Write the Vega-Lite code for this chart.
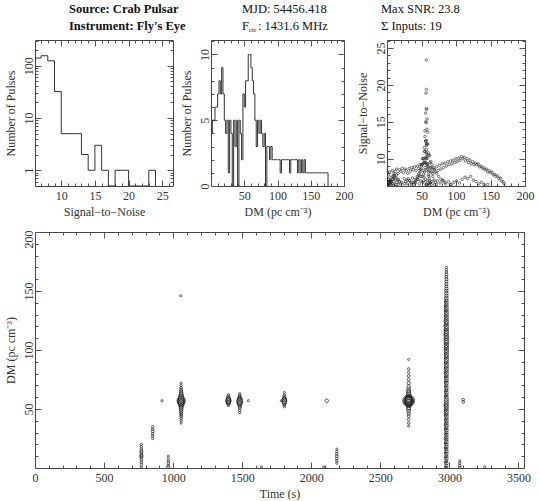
{
  "$schema": "https://vega.github.io/schema/vega-lite/v6.json",
  "padding": {"left": 3, "top": 1, "right": 2, "bottom": 0},
  "datasets": {
    "header": [
      {"col": 1, "line": 1, "part": "bold", "text": "Source: Crab Pulsar"},
      {"col": 1, "line": 2, "part": "bold", "text": "Instrument: Fly's Eye"},
      {"col": 2, "line": 1, "part": "main", "text": "MJD: 54456.418"},
      {"col": 2, "line": 2, "part": "main", "text": "F"},
      {"col": 2, "line": 2, "part": "sub", "text": "ctr"},
      {"col": 2, "line": 2, "part": "rest", "text": ": 1431.6 MHz"},
      {"col": 3, "line": 1, "part": "main", "text": "Max SNR: 23.8"},
      {"col": 3, "line": 2, "part": "main", "text": "Σ Inputs: 19"}
    ],
    "snrhist": [
      {"snr": 6, "count": 140}, {"snr": 7, "count": 155}, {"snr": 8, "count": 124}, {"snr": 9, "count": 32},
      {"snr": 10, "count": 5}, {"snr": 11, "count": 5}, {"snr": 12, "count": 5}, {"snr": 13, "count": 2},
      {"snr": 14, "count": 1}, {"snr": 15, "count": 3}, {"snr": 16, "count": 1}, {"snr": 17, "count": 0},
      {"snr": 18, "count": 1}, {"snr": 19, "count": 1}, {"snr": 20, "count": 0}, {"snr": 21, "count": 0},
      {"snr": 22, "count": 0}, {"snr": 23, "count": 1}, {"snr": 24, "count": 0}
    ],
    "dmhist": [
      {"dm": 0, "count": 4}, {"dm": 2, "count": 5}, {"dm": 4, "count": 5}, {"dm": 6, "count": 6}, {"dm": 8, "count": 6},
      {"dm": 10, "count": 7}, {"dm": 12, "count": 8}, {"dm": 14, "count": 7}, {"dm": 16, "count": 9}, {"dm": 18, "count": 7},
      {"dm": 20, "count": 5}, {"dm": 22, "count": 4}, {"dm": 24, "count": 5}, {"dm": 26, "count": 1}, {"dm": 28, "count": 5},
      {"dm": 30, "count": 4}, {"dm": 32, "count": 0}, {"dm": 34, "count": 5}, {"dm": 36, "count": 3}, {"dm": 38, "count": 5},
      {"dm": 40, "count": 0}, {"dm": 42, "count": 5}, {"dm": 44, "count": 4}, {"dm": 46, "count": 2}, {"dm": 48, "count": 7},
      {"dm": 50, "count": 6}, {"dm": 52, "count": 8}, {"dm": 54, "count": 8}, {"dm": 56, "count": 10}, {"dm": 58, "count": 10},
      {"dm": 60, "count": 9}, {"dm": 62, "count": 8}, {"dm": 64, "count": 7}, {"dm": 66, "count": 5}, {"dm": 68, "count": 3},
      {"dm": 70, "count": 5}, {"dm": 72, "count": 4}, {"dm": 74, "count": 5}, {"dm": 76, "count": 4}, {"dm": 78, "count": 3},
      {"dm": 80, "count": 4}, {"dm": 82, "count": 0}, {"dm": 84, "count": 3}, {"dm": 86, "count": 3}, {"dm": 88, "count": 2},
      {"dm": 90, "count": 3}, {"dm": 92, "count": 2}, {"dm": 94, "count": 2}, {"dm": 96, "count": 2}, {"dm": 98, "count": 2},
      {"dm": 100, "count": 2}, {"dm": 102, "count": 2}, {"dm": 104, "count": 1}, {"dm": 106, "count": 2}, {"dm": 108, "count": 2},
      {"dm": 110, "count": 2}, {"dm": 112, "count": 2}, {"dm": 114, "count": 2}, {"dm": 116, "count": 2}, {"dm": 118, "count": 1},
      {"dm": 120, "count": 2}, {"dm": 122, "count": 2}, {"dm": 124, "count": 2}, {"dm": 126, "count": 2}, {"dm": 128, "count": 2},
      {"dm": 130, "count": 1}, {"dm": 132, "count": 2}, {"dm": 134, "count": 1}, {"dm": 136, "count": 2}, {"dm": 138, "count": 1},
      {"dm": 140, "count": 2}, {"dm": 142, "count": 1}, {"dm": 144, "count": 1}, {"dm": 146, "count": 1}, {"dm": 148, "count": 1},
      {"dm": 150, "count": 1}, {"dm": 152, "count": 1}, {"dm": 154, "count": 1}, {"dm": 156, "count": 1}, {"dm": 158, "count": 1},
      {"dm": 160, "count": 1}, {"dm": 162, "count": 1}, {"dm": 164, "count": 1}, {"dm": 166, "count": 1}, {"dm": 168, "count": 1},
      {"dm": 170, "count": 1}, {"dm": 172, "count": 1}, {"dm": 174, "count": 1}, {"dm": 176, "count": 0}
    ],
    "events": [
      {"t":770,"dm":1,"snr":6.5},{"t":770,"dm":3,"snr":6.8},{"t":770,"dm":5,"snr":7.0},{"t":770,"dm":7,"snr":7.2},{"t":770,"dm":9,"snr":7.6},{"t":770,"dm":10,"snr":8.0},{"t":770,"dm":11,"snr":7.6},{"t":770,"dm":13,"snr":7.4},{"t":770,"dm":14,"snr":7.8},{"t":770,"dm":16,"snr":7.2},{"t":770,"dm":18,"snr":6.9},{"t":770,"dm":20,"snr":6.6},
      {"t":852,"dm":25,"snr":6.6},{"t":852,"dm":27,"snr":6.9},{"t":852,"dm":29,"snr":7.1},{"t":852,"dm":31,"snr":7.3},{"t":852,"dm":33,"snr":7.0},{"t":852,"dm":35,"snr":6.7},
      {"t":920,"dm":57,"snr":6.6},
      {"t":965,"dm":0.5,"snr":8.2},{"t":965,"dm":2,"snr":7.2},{"t":965,"dm":4,"snr":7.0},{"t":965,"dm":6,"snr":6.8},{"t":965,"dm":8,"snr":6.6},{"t":965,"dm":10,"snr":6.4},
      {"t":1058,"dm":38,"snr":6.5},{"t":1058,"dm":40,"snr":6.8},{"t":1058,"dm":42,"snr":7.0},{"t":1058,"dm":43.5,"snr":7.2},{"t":1058,"dm":45,"snr":7.5},{"t":1058,"dm":46.5,"snr":7.8},{"t":1058,"dm":48,"snr":8.2},{"t":1058,"dm":49.5,"snr":8.6},{"t":1058,"dm":51,"snr":9.2},{"t":1058,"dm":52.5,"snr":10.0},{"t":1058,"dm":54,"snr":11.5},{"t":1058,"dm":55,"snr":13.0},{"t":1058,"dm":56,"snr":15.0},{"t":1058,"dm":57,"snr":16.8},{"t":1058,"dm":58,"snr":14.0},{"t":1058,"dm":59,"snr":12.0},{"t":1058,"dm":60.5,"snr":10.5},{"t":1058,"dm":62,"snr":9.5},{"t":1058,"dm":63.5,"snr":8.8},{"t":1058,"dm":65,"snr":8.2},{"t":1058,"dm":66.5,"snr":7.6},{"t":1058,"dm":68,"snr":7.1},{"t":1058,"dm":70,"snr":6.8},{"t":1058,"dm":72,"snr":6.5},{"t":1058,"dm":57,"snr":12.5},{"t":1058,"dm":56.5,"snr":10.0},
      {"t":1055,"dm":146,"snr":6.5},
      {"t":1400,"dm":53,"snr":7.0},{"t":1400,"dm":54.5,"snr":8.2},{"t":1400,"dm":55.5,"snr":9.5},{"t":1400,"dm":56.5,"snr":10.8},{"t":1400,"dm":57,"snr":11.8},{"t":1400,"dm":58,"snr":10.2},{"t":1400,"dm":59,"snr":9.0},{"t":1400,"dm":60.5,"snr":7.8},{"t":1400,"dm":62,"snr":6.8},
      {"t":1482,"dm":47,"snr":6.6},{"t":1482,"dm":49,"snr":7.0},{"t":1482,"dm":51,"snr":7.6},{"t":1482,"dm":52.5,"snr":8.4},{"t":1482,"dm":54,"snr":9.5},{"t":1482,"dm":55,"snr":11.0},{"t":1482,"dm":56,"snr":12.4},{"t":1482,"dm":57,"snr":12.0},{"t":1482,"dm":58,"snr":10.6},{"t":1482,"dm":59,"snr":9.3},{"t":1482,"dm":60,"snr":8.2},{"t":1482,"dm":61.5,"snr":7.3},{"t":1482,"dm":63,"snr":6.7},
      {"t":1545,"dm":57,"snr":6.5},
      {"t":1640,"dm":1,"snr":6.4},
      {"t":1783,"dm":57,"snr":6.4},
      {"t":1805,"dm":52,"snr":6.8},{"t":1805,"dm":53.5,"snr":7.5},{"t":1805,"dm":55,"snr":8.8},{"t":1805,"dm":56,"snr":10.2},{"t":1805,"dm":57,"snr":11.2},{"t":1805,"dm":58,"snr":10.0},{"t":1805,"dm":59,"snr":8.6},{"t":1805,"dm":60.5,"snr":7.6},{"t":1805,"dm":62,"snr":7.0},{"t":1805,"dm":64,"snr":6.5},
      {"t":2090,"dm":1,"snr":6.4},
      {"t":2112,"dm":57,"snr":8.5},
      {"t":2185,"dm":4,"snr":6.6},{"t":2185,"dm":6,"snr":6.9},{"t":2185,"dm":8,"snr":7.2},{"t":2185,"dm":10,"snr":7.4},{"t":2185,"dm":12,"snr":7.1},{"t":2185,"dm":14,"snr":6.8},{"t":2185,"dm":16,"snr":6.5},
      {"t":2705,"dm":57,"snr":23.4},{"t":2705,"dm":57,"snr":19.4},{"t":2705,"dm":56.5,"snr":18.9},{"t":2705,"dm":57.5,"snr":16.7},{"t":2705,"dm":56,"snr":16.2},{"t":2705,"dm":58,"snr":15.4},{"t":2705,"dm":57,"snr":14.9},{"t":2705,"dm":55,"snr":13.8},{"t":2705,"dm":59,"snr":13.6},{"t":2705,"dm":56,"snr":12.4},{"t":2705,"dm":58,"snr":12.0},{"t":2705,"dm":54,"snr":11.0},{"t":2705,"dm":60,"snr":10.8},{"t":2705,"dm":53,"snr":10.0},
      {"t":2705,"dm":38,"snr":6.8},{"t":2705,"dm":41,"snr":7.2},{"t":2705,"dm":44,"snr":7.6},{"t":2705,"dm":46,"snr":8.0},{"t":2705,"dm":48,"snr":8.5},{"t":2705,"dm":50,"snr":9.2},{"t":2705,"dm":51.5,"snr":10.0},{"t":2705,"dm":62,"snr":10.4},{"t":2705,"dm":63.5,"snr":9.6},{"t":2705,"dm":65,"snr":9.2},{"t":2705,"dm":67,"snr":8.8},{"t":2705,"dm":69,"snr":8.5},{"t":2705,"dm":72,"snr":8.0},{"t":2705,"dm":75,"snr":7.6},{"t":2705,"dm":78,"snr":7.2},{"t":2705,"dm":81,"snr":7.0},{"t":2705,"dm":84,"snr":6.8},{"t":2705,"dm":35.5,"snr":6.5},{"t":2705,"dm":92,"snr":6.5},
      {"t":2978,"dm":0,"snr":7.0},{"t":2978,"dm":2,"snr":7.8},{"t":2978,"dm":4,"snr":8.2},{"t":2978,"dm":6,"snr":7.5},{"t":2978,"dm":8,"snr":8.4},{"t":2978,"dm":10,"snr":7.8},{"t":2978,"dm":12,"snr":8.3},{"t":2978,"dm":14,"snr":8.6},{"t":2978,"dm":16,"snr":8.0},{"t":2978,"dm":18,"snr":8.5},{"t":2978,"dm":20,"snr":8.3},{"t":2978,"dm":22,"snr":8.7},{"t":2978,"dm":24,"snr":8.1},{"t":2978,"dm":26,"snr":8.6},{"t":2978,"dm":28,"snr":8.4},{"t":2978,"dm":30,"snr":8.0},{"t":2978,"dm":32,"snr":8.7},{"t":2978,"dm":34,"snr":8.3},{"t":2978,"dm":36,"snr":8.8},{"t":2978,"dm":38,"snr":8.5},{"t":2978,"dm":40,"snr":8.9},{"t":2978,"dm":42,"snr":8.4},{"t":2978,"dm":44,"snr":9.0},{"t":2978,"dm":46,"snr":8.7},{"t":2978,"dm":48,"snr":9.2},{"t":2978,"dm":50,"snr":9.0},{"t":2978,"dm":52,"snr":9.3},{"t":2978,"dm":54,"snr":9.5},{"t":2978,"dm":56,"snr":9.4},{"t":2978,"dm":58,"snr":9.2},
      {"t":2978,"dm":60,"snr":8.9},{"t":2978,"dm":62,"snr":8.3},{"t":2978,"dm":64,"snr":8.7},{"t":2978,"dm":66,"snr":8.0},{"t":2978,"dm":68,"snr":8.6},{"t":2978,"dm":70,"snr":8.2},{"t":2978,"dm":72,"snr":8.9},{"t":2978,"dm":74,"snr":8.4},{"t":2978,"dm":76,"snr":9.1},{"t":2978,"dm":78,"snr":8.6},{"t":2978,"dm":80,"snr":9.3},{"t":2978,"dm":82,"snr":8.8},{"t":2978,"dm":84,"snr":9.4},{"t":2978,"dm":86,"snr":9.0},{"t":2978,"dm":88,"snr":9.6},{"t":2978,"dm":90,"snr":9.2},{"t":2978,"dm":92,"snr":9.7},{"t":2978,"dm":94,"snr":9.3},{"t":2978,"dm":96,"snr":9.8},{"t":2978,"dm":98,"snr":9.5},{"t":2978,"dm":100,"snr":10.0},{"t":2978,"dm":102,"snr":9.6},{"t":2978,"dm":104,"snr":10.1},{"t":2978,"dm":106,"snr":9.8},{"t":2978,"dm":108,"snr":10.3},{"t":2978,"dm":110,"snr":10.0},{"t":2978,"dm":112,"snr":10.2},{"t":2978,"dm":114,"snr":9.7},{"t":2978,"dm":116,"snr":10.0},{"t":2978,"dm":118,"snr":9.5},{"t":2978,"dm":120,"snr":9.8},{"t":2978,"dm":122,"snr":9.3},{"t":2978,"dm":124,"snr":9.6},{"t":2978,"dm":126,"snr":9.2},{"t":2978,"dm":128,"snr":9.4},{"t":2978,"dm":130,"snr":9.2},{"t":2978,"dm":132,"snr":9.3},{"t":2978,"dm":134,"snr":8.9},{"t":2978,"dm":136,"snr":9.0},{"t":2978,"dm":138,"snr":8.7},{"t":2978,"dm":140,"snr":8.8},{"t":2978,"dm":142,"snr":8.5},{"t":2978,"dm":144,"snr":8.6},{"t":2978,"dm":146,"snr":8.2},{"t":2978,"dm":148,"snr":8.4},{"t":2978,"dm":150,"snr":8.1},{"t":2978,"dm":152,"snr":8.2},{"t":2978,"dm":154,"snr":7.8},{"t":2978,"dm":156,"snr":7.9},{"t":2978,"dm":158,"snr":7.6},{"t":2978,"dm":160,"snr":7.7},{"t":2978,"dm":162,"snr":7.3},{"t":2978,"dm":164,"snr":7.4},{"t":2978,"dm":166,"snr":7.0},{"t":2978,"dm":168,"snr":6.9},{"t":2978,"dm":170,"snr":6.6},
      {"t":2972,"dm":1,"snr":6.4},{"t":2972,"dm":5,"snr":6.6},{"t":2972,"dm":9,"snr":6.9},{"t":2972,"dm":13,"snr":6.5},{"t":2972,"dm":17,"snr":7.1},{"t":2972,"dm":21,"snr":6.8},{"t":2972,"dm":25,"snr":7.3},{"t":2972,"dm":29,"snr":6.6},{"t":2972,"dm":33,"snr":7.0},{"t":2972,"dm":37,"snr":7.4},{"t":2972,"dm":41,"snr":6.7},{"t":2972,"dm":45,"snr":7.2},{"t":2972,"dm":49,"snr":7.6},{"t":2972,"dm":53,"snr":7.9},{"t":2972,"dm":61,"snr":6.6},{"t":2972,"dm":65,"snr":6.9},{"t":2972,"dm":69,"snr":6.5},{"t":2972,"dm":73,"snr":7.0},{"t":2972,"dm":77,"snr":6.7},{"t":2972,"dm":81,"snr":7.1},{"t":2972,"dm":85,"snr":6.6},{"t":2972,"dm":89,"snr":6.9},{"t":2972,"dm":93,"snr":6.5},{"t":2972,"dm":97,"snr":6.8},{"t":2972,"dm":101,"snr":7.0},{"t":2972,"dm":105,"snr":6.7},{"t":2972,"dm":109,"snr":7.2},{"t":2972,"dm":113,"snr":7.5},{"t":2972,"dm":117,"snr":7.3},{"t":2972,"dm":121,"snr":7.6},{"t":2972,"dm":125,"snr":7.1},{"t":2972,"dm":129,"snr":6.9},{"t":2972,"dm":133,"snr":6.6},{"t":2972,"dm":137,"snr":6.8},{"t":2972,"dm":141,"snr":6.5},
      {"t":3075,"dm":0.5,"snr":6.8},{"t":3075,"dm":2,"snr":7.2},{"t":3075,"dm":4,"snr":6.9},{"t":3075,"dm":6,"snr":6.5},
      {"t":3100,"dm":56,"snr":7.2},{"t":3100,"dm":58,"snr":7.0},
      {"t":3255,"dm":1,"snr":6.4}
    ]
  },
  "vconcat": [
    {
      "width": 489, "height": 26,
      "view": {"stroke": null},
      "data": {"name": "header"},
      "encoding": {
        "x": {"field": "col", "type": "quantitative", "scale": {"domain": [1, 2, 3], "range": [34, 207, 346]}, "axis": null},
        "y": {"field": "line", "type": "quantitative", "scale": {"domain": [1, 2], "range": [8, 25]}, "axis": null},
        "text": {"field": "text"}
      },
      "layer": [
        {"transform": [{"filter": "datum.part === 'bold'"}], "mark": {"type": "text", "align": "left", "baseline": "middle", "font": "Liberation Serif", "fontSize": 12.5, "fontWeight": "bold", "color": "#111"}},
        {"transform": [{"filter": "datum.part === 'main'"}], "mark": {"type": "text", "align": "left", "baseline": "middle", "font": "Liberation Serif", "fontSize": 12.5, "color": "#111"}},
        {"transform": [{"filter": "datum.part === 'sub'"}], "mark": {"type": "text", "align": "left", "baseline": "middle", "font": "Liberation Serif", "fontSize": 7, "dx": 7, "dy": 4, "color": "#111"}},
        {"transform": [{"filter": "datum.part === 'rest'"}], "mark": {"type": "text", "align": "left", "baseline": "middle", "font": "Liberation Serif", "fontSize": 12.5, "dx": 16, "color": "#111"}}
      ]
    },
    {
      "vconcat": [
        {
          "hconcat": [
            {
              "hconcat": [
                {
                  "width": 138, "height": 146,
                  "data": {"name": "snrhist"},
                  "layer": [
                    {
                      "mark": {"type": "line", "interpolate": "step-after", "color": "#333", "strokeWidth": 1, "clip": true, "invalid": "show"},
                      "encoding": {
                        "x": {"field": "snr", "type": "quantitative", "scale": {"domain": [6.1, 26.6], "nice": false, "zero": false},
                          "axis": {"orient": "bottom", "title": "Signal−to−Noise", "values": [7,8,9,10,11,12,13,14,15,16,17,18,19,20,21,22,23,24,25,26],
                            "labelExpr": "datum.value % 5 === 0 ? datum.label : ''",
                            "tickSize": {"condition": {"test": "datum.value % 5 === 0", "value": -6}, "value": -3}, "labelPadding": 10, "titlePadding": 2}},
                        "y": {"field": "count", "type": "quantitative", "scale": {"type": "log", "domain": [0.5, 310], "nice": false, "clamp": true},
                          "axis": {"orient": "left", "title": "Number of Pulses", "values": [0.6,0.7,0.8,0.9,1,2,3,4,5,6,7,8,9,10,20,30,40,50,60,70,80,90,100,200,300],
                            "labelExpr": "(datum.value === 1 || datum.value === 10 || datum.value === 100) ? datum.label : ''",
                            "tickSize": {"condition": {"test": "datum.value === 1 || datum.value === 10 || datum.value === 100", "value": -6}, "value": -3}, "labelPadding": 6, "titlePadding": 2}}
                      }
                    },
                    {
                      "mark": {"type": "point", "opacity": 0},
                      "encoding": {
                        "x": {"field": "snr", "type": "quantitative", "axis": {"orient": "top", "title": null, "labels": false, "values": [7,8,9,10,11,12,13,14,15,16,17,18,19,20,21,22,23,24,25,26],
                          "tickSize": {"condition": {"test": "datum.value % 5 === 0", "value": -6}, "value": -3}}},
                        "y": {"field": "count", "type": "quantitative", "axis": {"orient": "right", "title": null, "labels": false, "values": [0.6,0.7,0.8,0.9,1,2,3,4,5,6,7,8,9,10,20,30,40,50,60,70,80,90,100,200,300],
                          "tickSize": {"condition": {"test": "datum.value === 1 || datum.value === 10 || datum.value === 100", "value": -6}, "value": -3}}}
                      }
                    }
                  ],
                  "resolve": {"axis": {"x": "independent", "y": "independent"}}
                },
                {
                  "width": 133, "height": 146,
                  "data": {"name": "dmhist"},
                  "layer": [
                    {
                      "mark": {"type": "line", "interpolate": "step-after", "color": "#333", "strokeWidth": 1, "clip": true},
                      "encoding": {
                        "x": {"field": "dm", "type": "quantitative", "scale": {"domain": [0, 200], "nice": false},
                          "axis": {"orient": "bottom", "title": "DM (pc cm⁻³)", "values": [0,10,20,30,40,50,60,70,80,90,100,110,120,130,140,150,160,170,180,190,200],
                            "labelExpr": "datum.value % 50 === 0 && datum.value > 0 ? datum.label : ''",
                            "tickSize": {"condition": {"test": "datum.value % 50 === 0", "value": -6}, "value": -3}, "labelPadding": 10, "titlePadding": 2}},
                        "y": {"field": "count", "type": "quantitative", "scale": {"domain": [0, 11.1], "nice": false},
                          "axis": {"orient": "left", "title": "Number of Pulses", "values": [0,1,2,3,4,5,6,7,8,9,10,11],
                            "labelExpr": "datum.value % 5 === 0 ? datum.label : ''",
                            "tickSize": {"condition": {"test": "datum.value % 5 === 0", "value": -6}, "value": -3}, "labelPadding": 6, "titlePadding": 2}}
                      }
                    },
                    {
                      "mark": {"type": "point", "opacity": 0},
                      "encoding": {
                        "x": {"field": "dm", "type": "quantitative", "axis": {"orient": "top", "title": null, "labels": false, "values": [0,10,20,30,40,50,60,70,80,90,100,110,120,130,140,150,160,170,180,190,200],
                          "tickSize": {"condition": {"test": "datum.value % 50 === 0", "value": -6}, "value": -3}}},
                        "y": {"field": "count", "type": "quantitative", "axis": {"orient": "right", "title": null, "labels": false, "values": [0,1,2,3,4,5,6,7,8,9,10,11],
                          "tickSize": {"condition": {"test": "datum.value % 5 === 0", "value": -6}, "value": -3}}}
                      }
                    }
                  ],
                  "resolve": {"axis": {"x": "independent", "y": "independent"}}
                }
              ],
              "spacing": 5
            },
            {
              "width": 138, "height": 146,
              "data": {"name": "events"},
              "layer": [
                {
                  "mark": {"type": "point", "filled": false, "size": 6, "stroke": "#222", "strokeWidth": 0.6, "opacity": 1, "clip": true},
                  "encoding": {
                    "x": {"field": "dm", "type": "quantitative", "scale": {"domain": [0, 200], "nice": false},
                      "axis": {"orient": "bottom", "title": "DM (pc cm⁻³)", "values": [0,10,20,30,40,50,60,70,80,90,100,110,120,130,140,150,160,170,180,190,200],
                        "labelExpr": "datum.value % 50 === 0 && datum.value > 0 ? datum.label : ''",
                        "tickSize": {"condition": {"test": "datum.value % 50 === 0", "value": -6}, "value": -3}, "labelPadding": 10, "titlePadding": 2}},
                    "y": {"field": "snr", "type": "quantitative", "scale": {"domain": [6.3, 26.1], "nice": false, "zero": false},
                      "axis": {"orient": "left", "title": "Signal−to−Noise", "values": [7,8,9,10,11,12,13,14,15,16,17,18,19,20,21,22,23,24,25,26],
                        "labelExpr": "datum.value % 5 === 0 ? datum.label : ''",
                        "tickSize": {"condition": {"test": "datum.value % 5 === 0", "value": -6}, "value": -3}, "labelPadding": 6, "titlePadding": 2}}
                  }
                },
                {
                  "mark": {"type": "point", "opacity": 0},
                  "encoding": {
                    "x": {"field": "dm", "type": "quantitative", "axis": {"orient": "top", "title": null, "labels": false, "values": [0,10,20,30,40,50,60,70,80,90,100,110,120,130,140,150,160,170,180,190,200],
                      "tickSize": {"condition": {"test": "datum.value % 50 === 0", "value": -6}, "value": -3}}},
                    "y": {"field": "snr", "type": "quantitative", "axis": {"orient": "right", "title": null, "labels": false, "values": [7,8,9,10,11,12,13,14,15,16,17,18,19,20,21,22,23,24,25,26],
                      "tickSize": {"condition": {"test": "datum.value % 5 === 0", "value": -6}, "value": -3}}}
                  }
                }
              ],
              "resolve": {"axis": {"x": "independent", "y": "independent"}}
            }
          ],
          "spacing": 1
        },
        {
          "width": 489, "height": 236,
          "data": {"name": "events"},
          "layer": [
            {
              "mark": {"type": "point", "filled": false, "stroke": "#222", "strokeWidth": 0.7, "opacity": 1, "clip": true},
              "encoding": {
                "x": {"field": "t", "type": "quantitative", "scale": {"domain": [0, 3540], "nice": false},
                  "axis": {"orient": "bottom", "title": "Time (s)", "format": "d", "values": [0,100,200,300,400,500,600,700,800,900,1000,1100,1200,1300,1400,1500,1600,1700,1800,1900,2000,2100,2200,2300,2400,2500,2600,2700,2800,2900,3000,3100,3200,3300,3400,3500],
                    "labelExpr": "datum.value % 500 === 0 ? datum.label : ''",
                    "tickSize": {"condition": {"test": "datum.value % 500 === 0", "value": -6}, "value": -3}, "labelPadding": 10, "titlePadding": 2}},
                "y": {"field": "dm", "type": "quantitative", "scale": {"domain": [0, 200], "nice": false},
                  "axis": {"orient": "left", "title": "DM (pc cm⁻³)", "values": [0,10,20,30,40,50,60,70,80,90,100,110,120,130,140,150,160,170,180,190,200],
                    "labelExpr": "datum.value % 50 === 0 && datum.value > 0 ? datum.label : ''",
                    "labelOffset": {"condition": {"test": "datum.value === 200", "value": 7}, "value": 0},
                    "tickSize": {"condition": {"test": "datum.value % 50 === 0", "value": -6}, "value": -3}, "labelPadding": 6, "titlePadding": 2}},
                "size": {"field": "snr", "type": "quantitative", "scale": {"type": "pow", "exponent": 2, "domain": [6, 24], "range": [3, 150]}, "legend": null}
              }
            },
            {
              "mark": {"type": "point", "opacity": 0},
              "encoding": {
                "x": {"field": "t", "type": "quantitative", "axis": {"orient": "top", "title": null, "labels": false, "values": [0,100,200,300,400,500,600,700,800,900,1000,1100,1200,1300,1400,1500,1600,1700,1800,1900,2000,2100,2200,2300,2400,2500,2600,2700,2800,2900,3000,3100,3200,3300,3400,3500],
                  "tickSize": {"condition": {"test": "datum.value % 500 === 0", "value": -6}, "value": -3}}},
                "y": {"field": "dm", "type": "quantitative", "axis": {"orient": "right", "title": null, "labels": false, "values": [0,10,20,30,40,50,60,70,80,90,100,110,120,130,140,150,160,170,180,190,200],
                  "tickSize": {"condition": {"test": "datum.value % 50 === 0", "value": -6}, "value": -3}}}
              }
            }
          ],
          "resolve": {"axis": {"x": "independent", "y": "independent"}}
        }
      ],
      "spacing": 11
    }
  ],
  "spacing": 6,
  "config": {
    "view": {"stroke": "#444", "strokeWidth": 1},
    "axis": {"grid": false, "domain": false, "labelFont": "Liberation Serif", "labelFontSize": 12, "labelColor": "#333",
      "titleFont": "Liberation Serif", "titleFontSize": 12, "titleFontWeight": "normal", "titleColor": "#333",
      "tickColor": "#555", "tickWidth": 1, "labelFlush": false, "labelOverlap": false, "labelBound": false},
    "axisY": {"labelAngle": -90}
  }
}
